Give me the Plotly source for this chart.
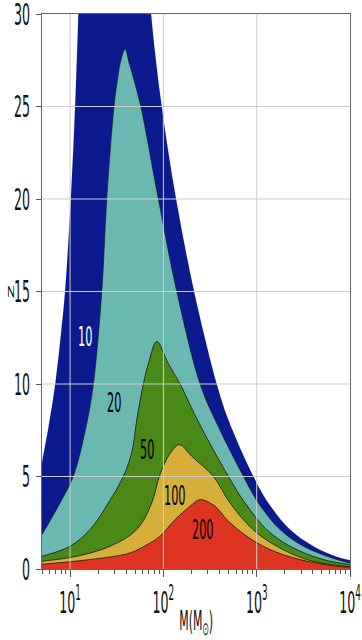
import numpy as np
import plotly.graph_objects as go

# Contour levels (SNR) and their fill colours
LEVELS = [10, 20, 50, 100, 200]
FILL_COLORS = ["#0b1a8e", "#6ab8b0", "#4a8818", "#d6ae3a", "#de3422"]
EDGE_WIDTHS = [0.0, 0.6, 0.8, 0.8, 0.8]

# Boundary of each filled contour: log10(M / M_sun) and redshift z
LOGM_10 = [0.699, 0.711, 0.764, 0.8425, 0.907, 0.946, 1.008, 1.054, 1.089, 1.105,
           1.835, 1.868, 1.982, 2.136, 2.329, 2.572, 2.696, 2.964,
           3.125, 3.357, 3.607, 3.857, 4.0]
Z_10 = [5.7, 6.09, 7.53, 10.06, 12.93, 15.0, 20.0, 25.0, 30.0, 32.5,
        32.5, 30.0, 25.0, 20.0, 15.0, 10.0, 8.07, 5.01,
        3.57, 2.13, 1.23, 0.66, 0.47]

LOGM_20 = [0.699, 0.893, 1.035, 1.18, 1.25, 1.34, 1.393, 1.471, 1.507,
           1.536, 1.589, 1.636, 1.686, 1.7575, 1.946, 2.143, 2.393, 2.56,
           2.857, 3.0175, 3.25, 3.5, 3.857, 4.0]
Z_20 = [1.86, 3.57, 5.01, 7.9, 10.0, 15.0, 20.0, 25.0, 26.4,
        27.3, 28.1, 27.3, 26.4, 25.0, 20.0, 15.0, 10.0, 8.0,
        5.01, 3.57, 2.13, 1.23, 0.51, 0.33]

LOGM_50 = [0.699, 1.0, 1.214, 1.41, 1.571, 1.661, 1.715, 1.785, 1.839,
           1.929, 2.053, 2.179, 2.37, 2.696, 2.875, 3.107, 3.357, 3.714, 4.0]
Z_50 = [0.69, 1.23, 2.13, 3.57, 5.01, 6.3, 8.07, 10.0, 11.1,
        12.3, 11.1, 10.0, 8.0, 5.01, 3.57, 2.13, 1.23, 0.51, 0.25]

LOGM_100 = [0.699, 1.072, 1.429, 1.715, 1.875, 1.957, 2.053, 2.171,
            2.304, 2.535, 2.714, 2.961, 3.215, 3.536, 3.925, 4.0]
Z_100 = [0.42, 0.69, 1.23, 2.13, 3.57, 5.01, 6.09, 6.72,
         6.09, 5.01, 3.57, 2.13, 1.23, 0.51, 0.15, 0.12]

LOGM_200 = [0.699, 1.214, 1.643, 1.857, 1.964, 2.125, 2.286, 2.393,
            2.554, 2.679, 2.893, 3.143, 3.464, 3.857, 4.0]
Z_200 = [0.26, 0.51, 0.87, 1.41, 1.77, 2.67, 3.39, 3.75,
         3.39, 2.67, 1.77, 1.05, 0.51, 0.15, 0.1]

CURVES = [(LOGM_10, Z_10), (LOGM_20, Z_20), (LOGM_50, Z_50),
          (LOGM_100, Z_100), (LOGM_200, Z_200)]

# Inline contour labels
LABEL_LOGM = [1.161, 1.471, 1.821, 2.125, 2.428]
LABEL_Z = [12.55, 8.98, 6.45, 3.97, 2.16]
LABEL_COLORS = ["white", "black", "black", "black", "black"]

# Axes
X_MIN, X_MAX = 5, 1e4
Y_MIN, Y_MAX = 0, 30
X_TICKS = [10, 100, 1000, 10000]
X_TICK_TEXT = ["10<sup>1</sup>", "10<sup>2</sup>", "10<sup>3</sup>", "10<sup>4</sup>"]
Y_TICKS = [0, 5, 10, 15, 20, 25, 30]
X_MINOR = [m * d for d in (1, 10, 100, 1000) for m in range(2, 10) if X_MIN <= m * d <= X_MAX]

FONT = "DejaVu Sans"
TEXT_COLOR = "#111"

fig = go.Figure()

for level, (lm, zz), color, ew in zip(LEVELS, CURVES, FILL_COLORS, EDGE_WIDTHS):
    fig.add_trace(go.Scatter(
        x=10 ** np.array(lm), y=zz,
        mode="lines",
        line=dict(color="#151515" if ew > 0 else color, width=ew if ew > 0 else 0.1,
                  shape="spline", smoothing=1.0),
        fill="tozeroy", fillcolor=color,
        name=str(level), showlegend=False, hoverinfo="skip",
    ))

# Grid lines drawn on top of the filled regions
grid_x, grid_y = [], []
for xv in X_TICKS[:-1]:
    grid_x += [xv, xv, None]
    grid_y += [Y_MIN, Y_MAX, None]
for yv in Y_TICKS[1:-1]:
    grid_x += [X_MIN, X_MAX, None]
    grid_y += [yv, yv, None]
fig.add_trace(go.Scatter(x=grid_x, y=grid_y, mode="lines",
                         line=dict(color="#cdcdcd", width=1),
                         showlegend=False, hoverinfo="skip"))

for lv, lm, lz, lc in zip(LEVELS, LABEL_LOGM, LABEL_Z, LABEL_COLORS):
    fig.add_annotation(x=lm, y=lz, xref="x", yref="y", text=str(lv),
                       showarrow=False, font=dict(family=FONT, size=27, color=lc))

# Axis titles
fig.add_annotation(x=0.5, y=-0.097, xref="paper", yref="paper",
                   text="M(M<sub>⊙</sub>)", showarrow=False,
                   xanchor="center", yanchor="middle",
                   font=dict(family=FONT, size=26, color=TEXT_COLOR))
fig.add_annotation(x=-0.104, y=0.5, xref="paper", yref="paper",
                   text="z", showarrow=False, textangle=-90,
                   xanchor="center", yanchor="middle",
                   font=dict(family=FONT, size=26, color=TEXT_COLOR))

fig.update_layout(
    width=362, height=640,
    margin=dict(l=42, r=12, t=14, b=71, autoexpand=False),
    paper_bgcolor="white", plot_bgcolor="white",
    font=dict(family=FONT, color=TEXT_COLOR),
    xaxis=dict(
        type="log", range=[np.log10(X_MIN), np.log10(X_MAX)],
        tickmode="array", tickvals=X_TICKS, ticktext=X_TICK_TEXT,
        ticks="outside", ticklen=7, tickwidth=1, tickcolor="#555",
        tickfont=dict(family=FONT, size=30, color=TEXT_COLOR),
        ticklabeloverflow="allow", automargin=False,
        showgrid=False, zeroline=False,
        showline=True, linecolor="#666", linewidth=1, mirror=True,
        minor=dict(tickmode="array", tickvals=X_MINOR, ticks="outside",
                   ticklen=4, tickwidth=1, tickcolor="#555", showgrid=False),
    ),
    yaxis=dict(
        range=[Y_MIN, Y_MAX], tickmode="array", tickvals=Y_TICKS,
        ticks="outside", ticklen=5, tickwidth=1, tickcolor="#555",
        tickfont=dict(family=FONT, size=30, color=TEXT_COLOR),
        ticklabeloverflow="allow", automargin=False,
        showgrid=False, zeroline=False,
        showline=True, linecolor="#666", linewidth=1, mirror=True,
    ),
)

# Narrow the glyphs horizontally (screen x) once the figure has been drawn
squeeze_js = """
var gd = document.getElementById('{plot_id}');
var SX = 0.42;
gd.querySelectorAll('svg text').forEach(function (t) {
  if (!t.textContent.trim()) return;
  var b = t.getBBox();
  var m = t.getCTM();
  var tf = t.getAttribute('transform') || '';
  if (Math.abs(m.a) < Math.abs(m.b)) {
    var cy = b.y + b.height / 2;
    tf += ' translate(0,' + cy + ') scale(1,' + SX + ') translate(0,' + (-cy) + ')';
  } else {
    var anchor = t.getAttribute('text-anchor') || 'start';
    var cx = anchor === 'end' ? b.x + b.width : (anchor === 'middle' ? b.x + b.width / 2 : b.x);
    tf += ' translate(' + cx + ',0) scale(' + SX + ',1) translate(' + (-cx) + ',0)';
  }
  t.setAttribute('transform', tf);
});
"""

fig.write_html("out.html", config={"displayModeBar": False}, post_script=squeeze_js)
